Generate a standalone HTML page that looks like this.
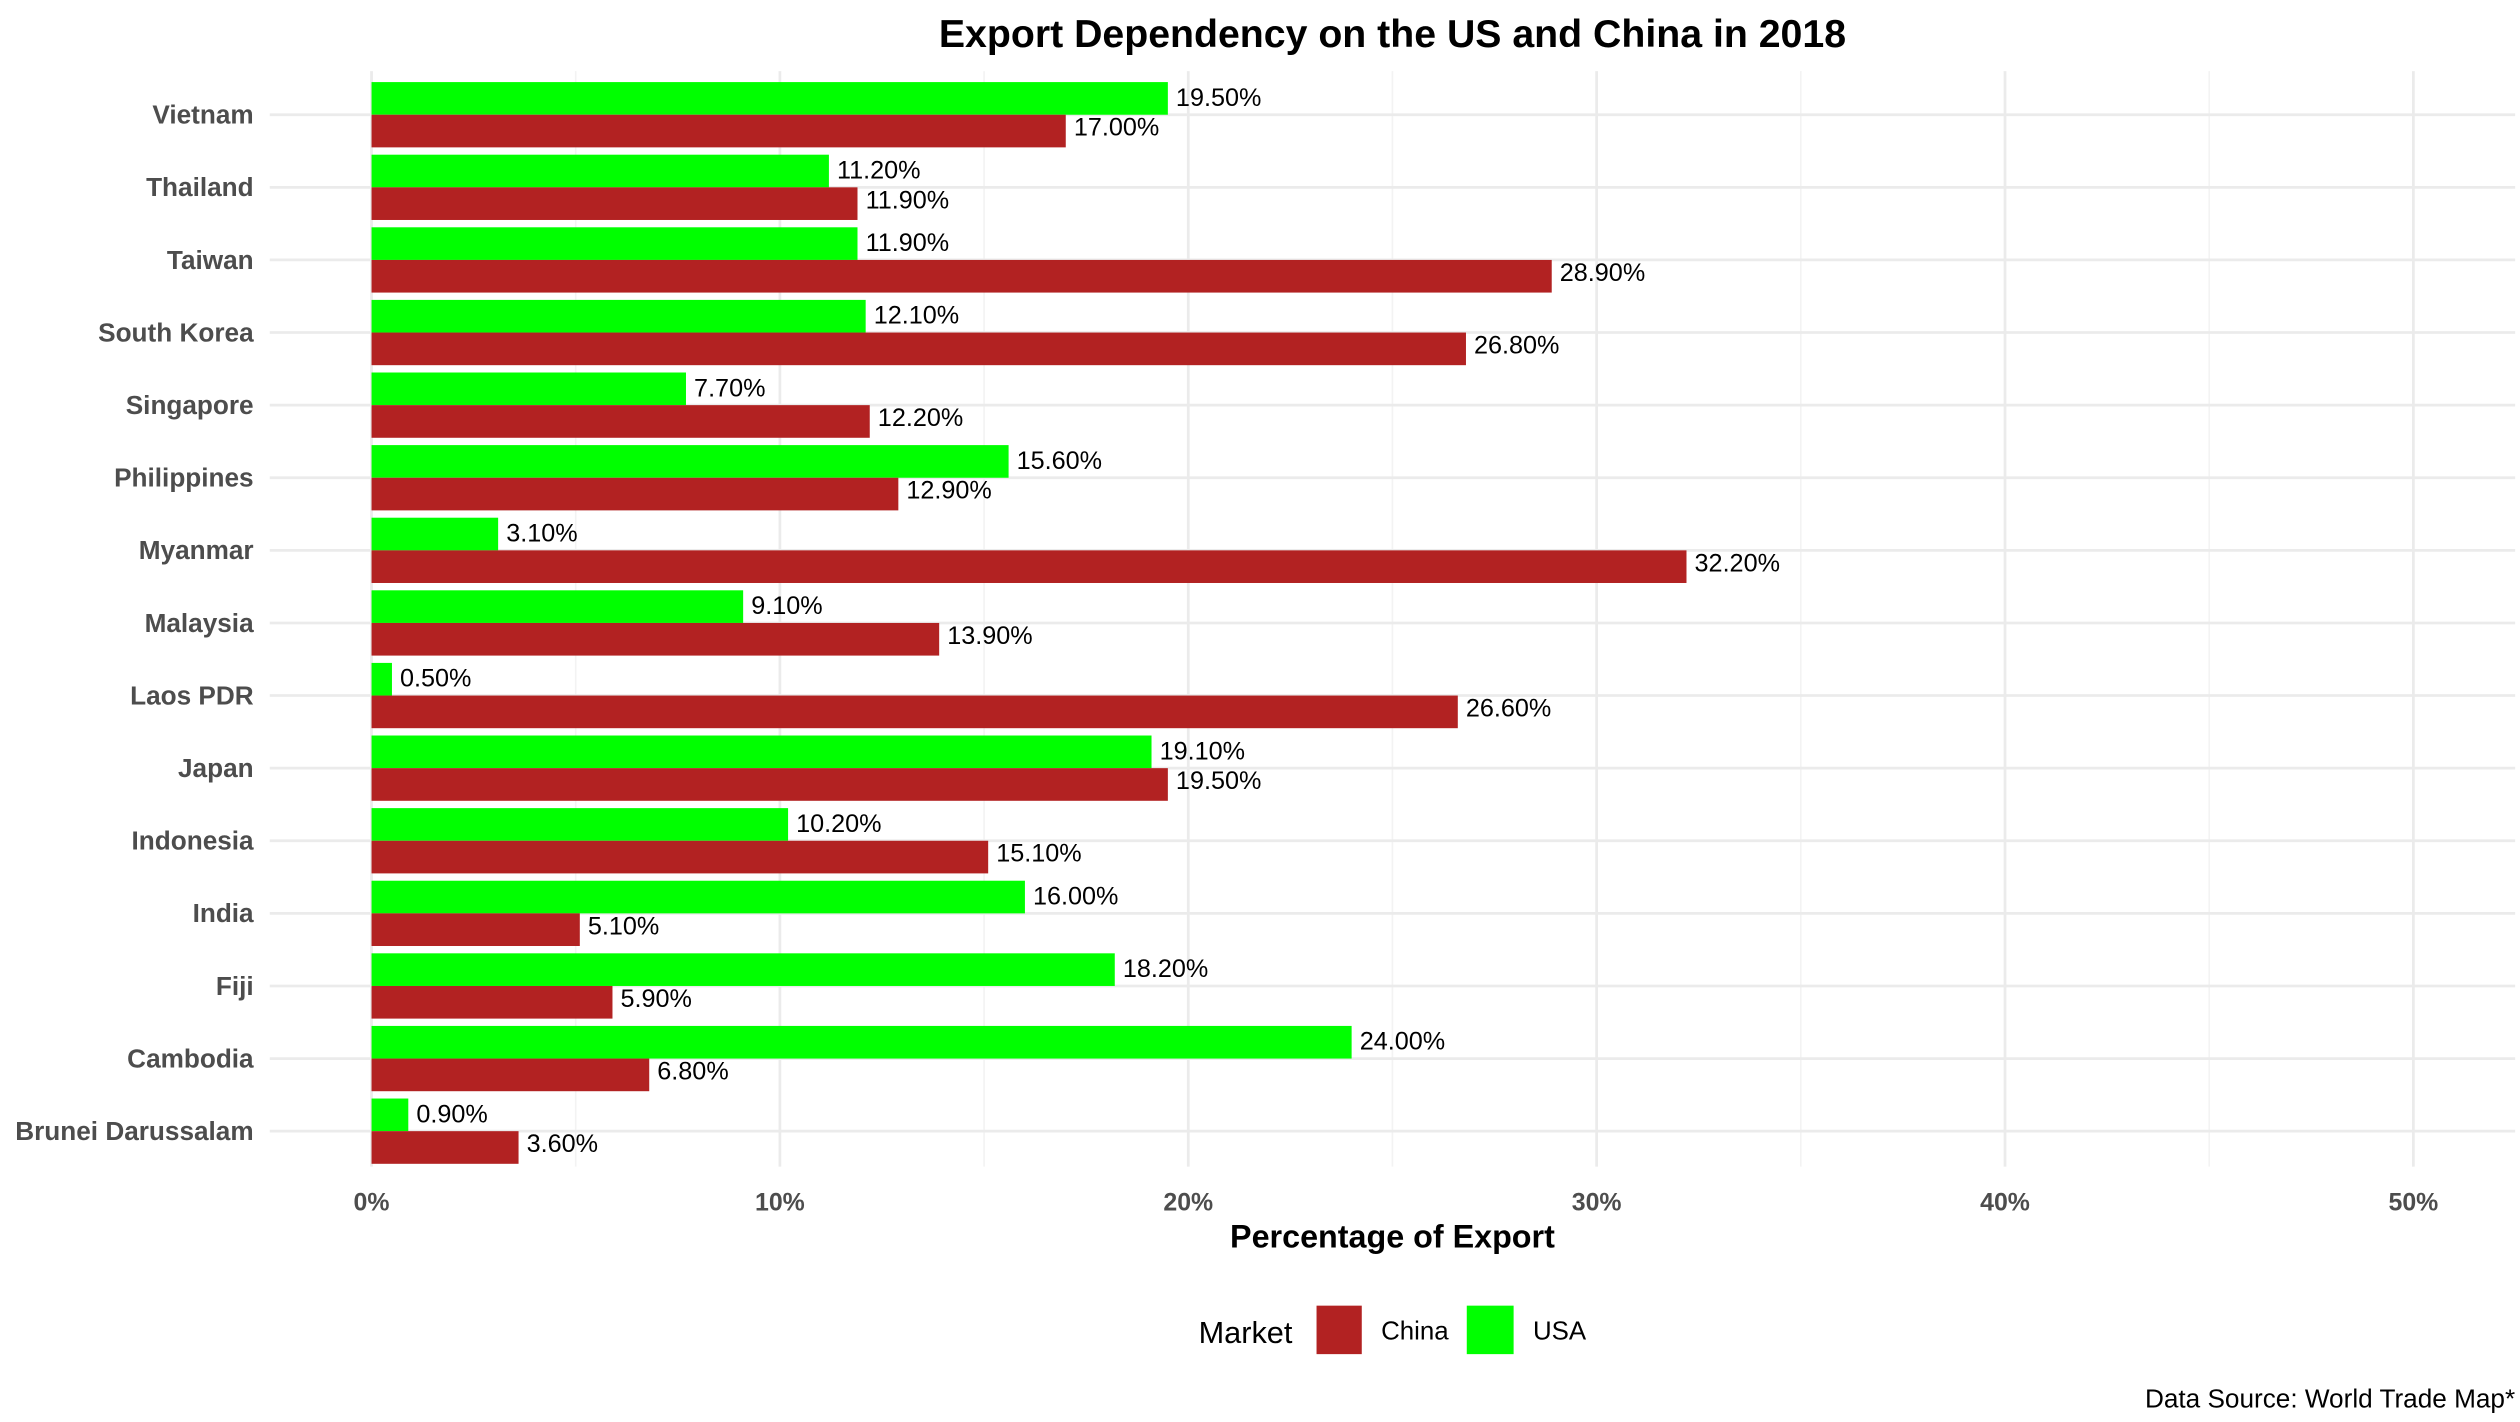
<!DOCTYPE html>
<html><head><meta charset="utf-8"><style>
html,body{margin:0;padding:0;background:#fff}
svg{display:block}
text{font-family:"Liberation Sans",Arial,sans-serif}
</style></head><body>
<svg id="chart" width="2520" height="1422" viewBox="0 0 1560 880" preserveAspectRatio="none" xmlns="http://www.w3.org/2000/svg">
<text x="862" y="29" text-anchor="middle" font-size="24.3" font-weight="bold" fill="#000">Export Dependency on the US and China in 2018</text>
<g id="grid"></g>
<g id="bars"></g>
<g id="labels"></g>
<text x="862" y="772" text-anchor="middle" font-size="20" font-weight="bold" fill="#000">Percentage of Export</text>
<g>
<text x="742" y="831" font-size="19" fill="#000">Market</text>
<rect x="815" y="808" width="28" height="30" fill="#b22222"/>
<text x="855" y="829" font-size="16" fill="#000">China</text>
<rect x="908" y="808" width="29" height="30" fill="#00ff00"/>
<text x="949" y="829" font-size="16" fill="#000">USA</text>
</g>
<text x="1557" y="871" text-anchor="end" font-size="16.2" fill="#000">Data Source: World Trade Map*</text>
</svg>
<script>
const countries = ["Vietnam","Thailand","Taiwan","South Korea","Singapore","Philippines","Myanmar","Malaysia","Laos PDR","Japan","Indonesia","India","Fiji","Cambodia","Brunei Darussalam"];
const usaValues = [19.5,11.2,11.9,12.1,7.7,15.6,3.1,9.1,0.5,19.1,10.2,16.0,18.2,24.0,0.9];
const chinaValues = [17.0,11.9,28.9,26.8,12.2,12.9,32.2,13.9,26.6,19.5,15.1,5.1,5.9,6.8,3.6];
const xTicks = [0,10,20,30,40,50];
const xMinor = [5,15,25,35,45];

const NS = "http://www.w3.org/2000/svg";
const panelL = 167, panelR = 1557, panelT = 44, panelB = 722;
const x = v => 230 + v * 25.28;
const y = i => 71 + i * 44.93;
const bandH = 40.4;
function mk(tag, attrs, parent){const e=document.createElementNS(NS,tag);for(const k in attrs)e.setAttribute(k,attrs[k]);parent.appendChild(e);return e;}
const grid=document.getElementById('grid'), bars=document.getElementById('bars'), labels=document.getElementById('labels');

xMinor.forEach(v=>{
  const l=mk('line',{x1:x(v),x2:x(v),y1:panelT,y2:panelB,stroke:'#f3f3f3','stroke-width':1},grid);
  
  
});
xTicks.forEach(v=>{
  const l=mk('line',{x1:x(v),x2:x(v),y1:panelT,y2:panelB,stroke:'#ebebeb','stroke-width':1.7},grid);
  
  
  const t=mk('text',{x:x(v),y:749,'text-anchor':'middle','font-size':15.4,'font-weight':'bold',fill:'#4d4d4d'},labels);
  t.textContent=v+'%';
  
  
});
countries.forEach((c,i)=>{
  const l=mk('line',{x1:panelL,x2:panelR,y1:y(i),y2:y(i),stroke:'#ebebeb','stroke-width':1.7},grid);
  
  
  const t=mk('text',{x:157,y:y(i)+5.5,'text-anchor':'end','font-size':16.2,'font-weight':'bold',fill:'#4d4d4d'},labels);
  t.textContent=c;
  
  
});
countries.forEach((c,i)=>{
  const u=usaValues[i], ch=chinaValues[i], h=bandH/2;
  const ru=mk('rect',{x:x(0),y:y(i)-h,width:x(u)-x(0),height:h,fill:'#00ff00'},bars);
  
  
  const rc=mk('rect',{x:x(0),y:y(i),width:x(ch)-x(0),height:h,fill:'#b22222'},bars);
  
  
  const tu=mk('text',{x:x(u)+5,y:y(i)-5.5,'font-size':15.6,fill:'#000'},labels);
  tu.textContent=u.toFixed(2)+'%';
  
  
  const tc=mk('text',{x:x(ch)+5,y:y(i)+13,'font-size':15.6,fill:'#000'},labels);
  tc.textContent=ch.toFixed(2)+'%';
  
  
});
</script>
</body></html>
